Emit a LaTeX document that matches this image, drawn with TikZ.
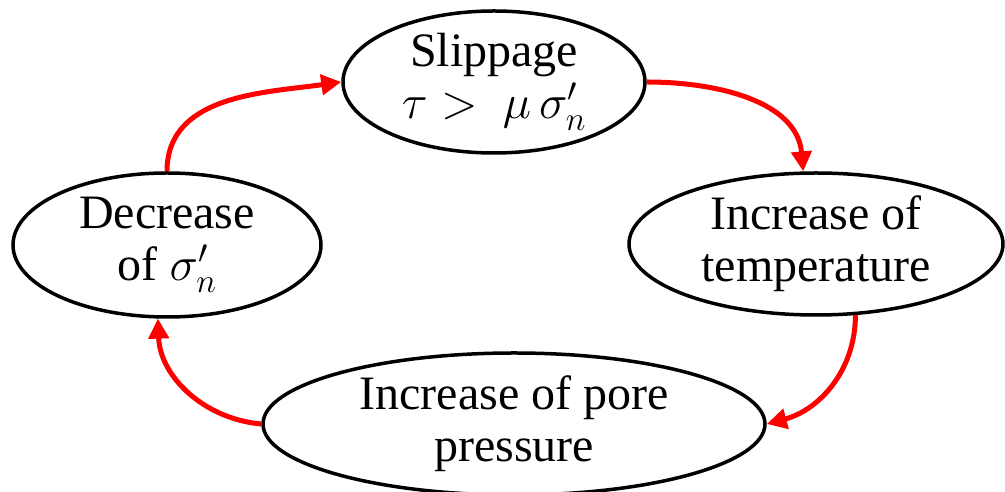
\RequirePackage{fix-cm}
\documentclass[tikz,border=0pt]{standalone}
\usepackage{fontspec}
\setmainfont{Liberation Serif}
\usetikzlibrary{shapes.geometric,arrows.meta}
\begin{document}
\begin{tikzpicture}[x=1pt,y=1pt,
  state/.style={draw=black,line width=3.5pt,ellipse,inner sep=0pt,align=center,
    font=\fontsize{48}{52}\selectfont},
  loop/.style={draw=red,line width=5pt,-{Triangle[length=20pt,width=20pt]}}]
\useasboundingbox (0,0) rectangle (1005,492);
\node[state,minimum width=302pt,minimum height=142pt] (slip) at (494,410) {Slippage\\$\tau >\ \mu\,\sigma'_n$};
\node[state,minimum width=374pt,minimum height=142pt] (temp) at (816,248) {Increase of\\temperature};
\node[state,minimum width=308pt,minimum height=144pt] (dec) at (167,247) {Decrease\\of $\sigma'_n$};
\node[state,minimum width=502pt,minimum height=142pt] (pore) at (514,68) {Increase of pore\\pressure};
\draw[loop] (slip.east) to[out=0,in=95] (temp.100);
\draw[loop] (temp.-61) to[out=-90,in=15] (pore.east);
\draw[loop] (pore.west) to[out=175,in=-88] (dec.-97);
\draw[loop] (dec.north) to[out=90,in=188] (slip.west);
\end{tikzpicture}
\end{document}
